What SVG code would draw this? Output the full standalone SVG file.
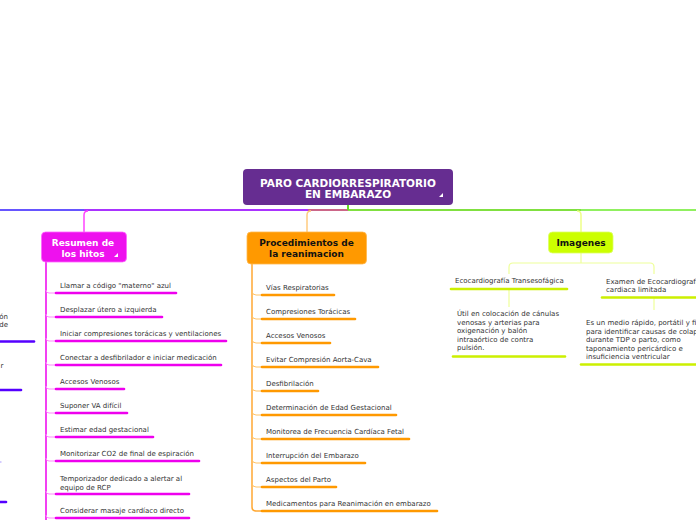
<svg xmlns="http://www.w3.org/2000/svg" width="696" height="520" viewBox="0 0 696 520">
<style>
text{font-family:"DejaVu Sans",Verdana,sans-serif}
.t{font-size:7px;fill:#333}
.nb{font-size:9px;font-weight:bold;text-anchor:middle}
.ulm{stroke:#ee00ee;stroke-width:2.6;stroke-linecap:round;fill:none}
.ulo{stroke:#ff9900;stroke-width:2.6;stroke-linecap:round;fill:none}
.uly{stroke:#ccf000;stroke-width:2.6;stroke-linecap:round;fill:none}
.ulb{stroke:#5500ff;stroke-width:2.6;stroke-linecap:round;fill:none}
.tkm{stroke:#ff88ff;stroke-width:1;fill:none}
.tko{stroke:#ffc266;stroke-width:1;fill:none}
.tky{stroke:#eeff99;stroke-width:1.2;fill:none}
</style>
<rect width="696" height="520" fill="#fff"/>
<g id="connectors" fill="none">
<path d="M0 210H84" stroke="#6655ff" stroke-width="2"/>
<path d="M84 210H308" stroke="#aa33ff" stroke-width="2"/>
<path d="M308 210H348" stroke="#cc6688" stroke-width="2"/>
<path d="M348 210H581" stroke="#80e040" stroke-width="2"/>
<path d="M581 210H696" stroke="#90f060" stroke-width="2"/>
<path d="M348 205V210" stroke="#66dd22" stroke-width="2"/>
<path d="M88 211Q84 211 84 215V232" stroke="#ff44ff" stroke-width="1.5"/>
<path d="M311 211Q307 211 307 215V232" stroke="#ffcc80" stroke-width="1.5"/>
<path d="M577 211Q581 211 581 215V232" stroke="#eeff88" stroke-width="1.5"/>
<path d="M46 262V520" stroke="#ee00ee" stroke-width="1.5"/>
<path class="tkm" d="M46 290Q46 293 49 293H56"/>
<path class="tkm" d="M46 314Q46 317 49 317H56"/>
<path class="tkm" d="M46 338Q46 341 49 341H56"/>
<path class="tkm" d="M46 362Q46 365 49 365H56"/>
<path class="tkm" d="M46 386Q46 389 49 389H56"/>
<path class="tkm" d="M46 410Q46 413 49 413H56"/>
<path class="tkm" d="M46 434Q46 437 49 437H56"/>
<path class="tkm" d="M46 458Q46 461 49 461H56"/>
<path class="tkm" d="M46 491Q46 494 49 494H56"/>
<path class="tkm" d="M46 515Q46 518 49 518H56"/>
<path d="M252 264V507Q252 511 256 511H262" stroke="#ffa833" stroke-width="1.5"/>
<path class="tko" d="M252 291Q252 295 256 295H262"/>
<path class="tko" d="M252 315Q252 319 256 319H262"/>
<path class="tko" d="M252 339Q252 343 256 343H262"/>
<path class="tko" d="M252 363Q252 367 256 367H262"/>
<path class="tko" d="M252 387Q252 391 256 391H262"/>
<path class="tko" d="M252 411Q252 415 256 415H262"/>
<path class="tko" d="M252 435Q252 439 256 439H262"/>
<path class="tko" d="M252 459Q252 463 256 463H262"/>
<path class="tko" d="M252 483Q252 487 256 487H262"/>
<path class="tky" d="M581 253V263M513 263H650M509 274V267Q509 263 513 263M654 274V267Q654 263 650 263"/>
<path class="tky" d="M509 289V307"/>
<path class="tky" d="M654 297V310"/>
<path d="M0 462H1.5" stroke="#aa99ff" stroke-width="1"/>
</g>
<g id="main">
<rect x="243" y="169" width="210" height="36" rx="4" fill="#662d91"/>
<text x="348" y="187" font-size="10.5" font-weight="bold" fill="#fff" text-anchor="middle">PARO CARDIORRESPIRATORIO</text>
<text x="348" y="198" font-size="10.5" font-weight="bold" fill="#fff" text-anchor="middle">EN EMBARAZO</text>
<polygon points="443,193 443,197 439,197" fill="#fff"/>
</g>
<g id="resumen">
<rect x="41.5" y="232" width="85" height="30" rx="4" fill="#ee11ee" stroke="#ff66ff" stroke-width="0.8"/>
<text class="nb" x="83" y="246" fill="#fff">Resumen de</text>
<text class="nb" x="83" y="257" fill="#fff">los hitos</text>
<polygon points="118,253 118,257 114,257" fill="#fff"/>
</g>
<g id="resumen-items">
<text class="t" x="60" y="287.5">Llamar a código "materno" azul</text><line class="ulm" x1="56" y1="293" x2="176" y2="293"/>
<text class="t" x="60" y="311.5">Desplazar útero a izquierda</text><line class="ulm" x1="56" y1="317" x2="162" y2="317"/>
<text class="t" x="60" y="335.5">Iniciar compresiones torácicas y ventilaciones</text><line class="ulm" x1="56" y1="341" x2="226" y2="341"/>
<text class="t" x="60" y="360">Conectar a desfibrilador e iniciar medicación</text><line class="ulm" x1="56" y1="365" x2="221" y2="365"/>
<text class="t" x="60" y="383.5">Accesos Venosos</text><line class="ulm" x1="56" y1="389" x2="124" y2="389"/>
<text class="t" x="60" y="407.5">Suponer VA difícil</text><line class="ulm" x1="56" y1="413" x2="127" y2="413"/>
<text class="t" x="60" y="431.5">Estimar edad gestacional</text><line class="ulm" x1="56" y1="437" x2="153" y2="437"/>
<text class="t" x="60" y="455.5">Monitorizar CO2 de final de espiración</text><line class="ulm" x1="56" y1="461" x2="199" y2="461"/>
<text class="t" x="60" y="480.5">Temporizador dedicado a alertar al</text><text class="t" x="60" y="490">equipo de RCP</text><line class="ulm" x1="56" y1="494" x2="189" y2="494"/>
<text class="t" x="60" y="512.5">Considerar masaje cardíaco directo</text><line class="ulm" x1="56" y1="518" x2="189" y2="518"/>
</g>
<g id="left-cut">
<text class="t" x="8" y="318.5" text-anchor="end">ón</text>
<text class="t" x="8" y="326.5" text-anchor="end">de</text>
<line class="ulb" x1="-5" y1="341.5" x2="34" y2="341.5"/>
<text class="t" x="3.5" y="368" text-anchor="end">r</text>
<line class="ulb" x1="-5" y1="390" x2="21" y2="390"/>
<line class="ulb" x1="-5" y1="502" x2="6" y2="502"/>
</g>
<g id="procedimientos">
<rect x="247" y="232" width="119.5" height="32" rx="4" fill="#ff9900" stroke="#ffb84d" stroke-width="0.8"/>
<text class="nb" x="306.5" y="246" fill="#111">Procedimientos de</text>
<text class="nb" x="306.5" y="257" fill="#111">la reanimacion</text>
</g>
<g id="procedimientos-items">
<text class="t" x="266" y="289.5">Vías Respiratorias</text><line class="ulo" x1="262" y1="295" x2="334" y2="295"/>
<text class="t" x="266" y="314">Compresiones Torácicas</text><line class="ulo" x1="262" y1="319" x2="355" y2="319"/>
<text class="t" x="266" y="337.5">Accesos Venosos</text><line class="ulo" x1="262" y1="343" x2="330" y2="343"/>
<text class="t" x="266" y="361.5">Evitar Compresión Aorta-Cava</text><line class="ulo" x1="262" y1="367" x2="378" y2="367"/>
<text class="t" x="266" y="385.5">Desfibrilación</text><line class="ulo" x1="262" y1="391" x2="318" y2="391"/>
<text class="t" x="266" y="409.5">Determinación de Edad Gestacional</text><line class="ulo" x1="262" y1="415" x2="396" y2="415"/>
<text class="t" x="266" y="434">Monitorea de Frecuencia Cardíaca Fetal</text><line class="ulo" x1="262" y1="439" x2="409" y2="439"/>
<text class="t" x="266" y="457.5">Interrupción del Embarazo</text><line class="ulo" x1="262" y1="463" x2="365" y2="463"/>
<text class="t" x="266" y="481.5">Aspectos del Parto</text><line class="ulo" x1="262" y1="487" x2="336" y2="487"/>
<text class="t" x="266" y="505.5">Medicamentos para Reanimación en embarazo</text><line class="ulo" x1="262" y1="511" x2="437" y2="511"/>
</g>
<g id="imagenes">
<rect x="548.5" y="232" width="64.5" height="21" rx="4" fill="#ccff00" stroke="#ddff66" stroke-width="0.8"/>
<text class="nb" x="581" y="246" fill="#111">Imagenes</text>
</g>
<g id="eco-transesofagica">
<text class="t" x="455" y="283">Ecocardiografía Transesofágica</text>
<line class="uly" x1="451" y1="289" x2="567" y2="289"/>
</g>
<g id="eco-transesofagica-nota">
<text class="t" x="457" y="316">Útil en colocación de cánulas</text>
<text class="t" x="457" y="324.5">venosas y arterias para</text>
<text class="t" x="457" y="333">oxigenación y balón</text>
<text class="t" x="457" y="341.5">intraaórtico de contra</text>
<text class="t" x="457" y="350">pulsión.</text>
<line class="uly" x1="453" y1="356.5" x2="565" y2="356.5"/>
</g>
<g id="eco-limitada">
<text class="t" x="606" y="283.5">Examen de Ecocardiografía</text>
<text class="t" x="606" y="291.5">cardiaca limitada</text>
<line class="uly" x1="602" y1="297.5" x2="700" y2="297.5"/>
</g>
<g id="eco-limitada-nota">
<text class="t" x="586" y="325">Es un medio rápido, portátil y fiable</text>
<text class="t" x="586" y="333.5">para identificar causas de colapso</text>
<text class="t" x="586" y="342">durante TDP o parto, como</text>
<text class="t" x="586" y="350.5">taponamiento pericárdico e</text>
<text class="t" x="586" y="359">insuficiencia ventricular</text>
<line class="uly" x1="581" y1="364.5" x2="700" y2="364.5"/>
</g>
</svg>
